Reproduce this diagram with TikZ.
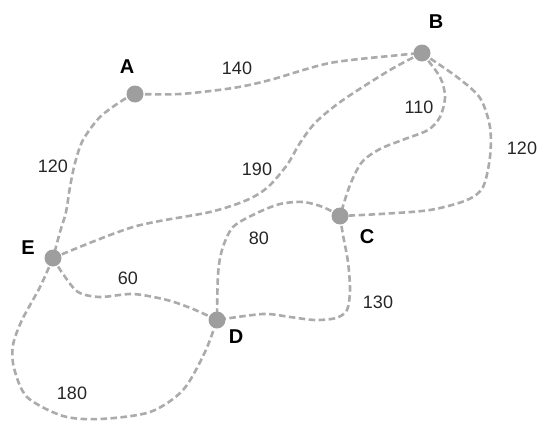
\documentclass[tikz,border=0pt]{standalone}
\usepackage{fontspec}
\setmainfont{Liberation Sans}
\usetikzlibrary{backgrounds}
\definecolor{vgray}{HTML}{9E9E9E}
\definecolor{egray}{HTML}{ABABAB}
\tikzset{
  vertex/.style={circle, fill=vgray, minimum size=17pt, inner sep=0pt},
  edge/.style={draw=egray, line width=2.6pt, dash pattern=on 6.5pt off 3.5pt},
  vlabel/.style={font=\fontsize{20}{22}\selectfont\bfseries, text=black, inner sep=0pt},
  wlabel/.style={font=\fontsize{18}{20}\selectfont, text=black!85, inner sep=0pt}
}
\begin{document}
\begin{tikzpicture}[x=1pt, y=-1pt]
\useasboundingbox (0,0) rectangle (539,421);
\node[vertex] (A) at (135,94) {};
\node[vertex] (B) at (422,53) {};
\node[vertex] (C) at (340,216) {};
\node[vertex] (D) at (217,320) {};
\node[vertex] (E) at (53,258) {};
\node[vlabel] (lA) at (127,67) {A};
\node[vlabel] (lB) at (436,22) {B};
\node[vlabel] (lC) at (367,237) {C};
\node[vlabel] (lD) at (236,337) {D};
\node[vlabel] (lE) at (28,248) {E};
\node[wlabel] (wAB) at (237,68) {140};
\node[wlabel] (wAE) at (53,166) {120};
\node[wlabel] (wBE) at (257,169) {190};
\node[wlabel] (wBC1) at (419,107) {110};
\node[wlabel] (wBC2) at (522,148) {120};
\node[wlabel] (wCD1) at (259,238) {80};
\node[wlabel] (wCD2) at (378,302) {130};
\node[wlabel] (wED1) at (128,278) {60};
\node[wlabel] (wED2) at (72,393) {180};
\begin{scope}[on background layer]
\draw[edge] plot[smooth] coordinates {(A.center) (180,94) (233,88) (270,80) (330,63) (400,55) (B.center)};
\draw[edge] plot[smooth] coordinates {(A.center) (123,100) (100,117) (83,140) (75,163) (70,187) (66,212) (60,232) (E.center)};
\draw[edge] plot[smooth] coordinates {(B.center) (390,70) (343,100) (316,122) (300,143) (287,165) (268,187) (247,200) (210,212) (133,227) (E.center)};
\draw[edge] plot[smooth] coordinates {(B.center) (440,77) (445,97) (440,117) (428,130) (405,139) (380,149) (362,162) (350,185) (C.center)};
\draw[edge] plot[smooth] coordinates {(B.center) (457,77) (480,98) (490,127) (490,157) (483,187) (467,200) (430,210) (380,214) (C.center)};
\draw[edge] plot[smooth] coordinates {(C.center) (323,207) (303,202) (280,204) (257,213) (233,227) (222,250) (218,275) (D.center)};
\draw[edge] plot[smooth] coordinates {(C.center) (343,235) (348,262) (350,290) (347,310) (336,318) (315,320) (290,317) (263,314) (D.center)};
\draw[edge] plot[smooth] coordinates {(E.center) (63,274) (78,292) (100,297) (133,294) (167,300) (193,309) (D.center)};
\draw[edge] plot[smooth] coordinates {(E.center) (40,287) (22,320) (13,345) (14,368) (27,397) (63,416) (100,419) (150,412) (183,390) (205,352) (D.center)};
\end{scope}
\end{tikzpicture}
\end{document}
